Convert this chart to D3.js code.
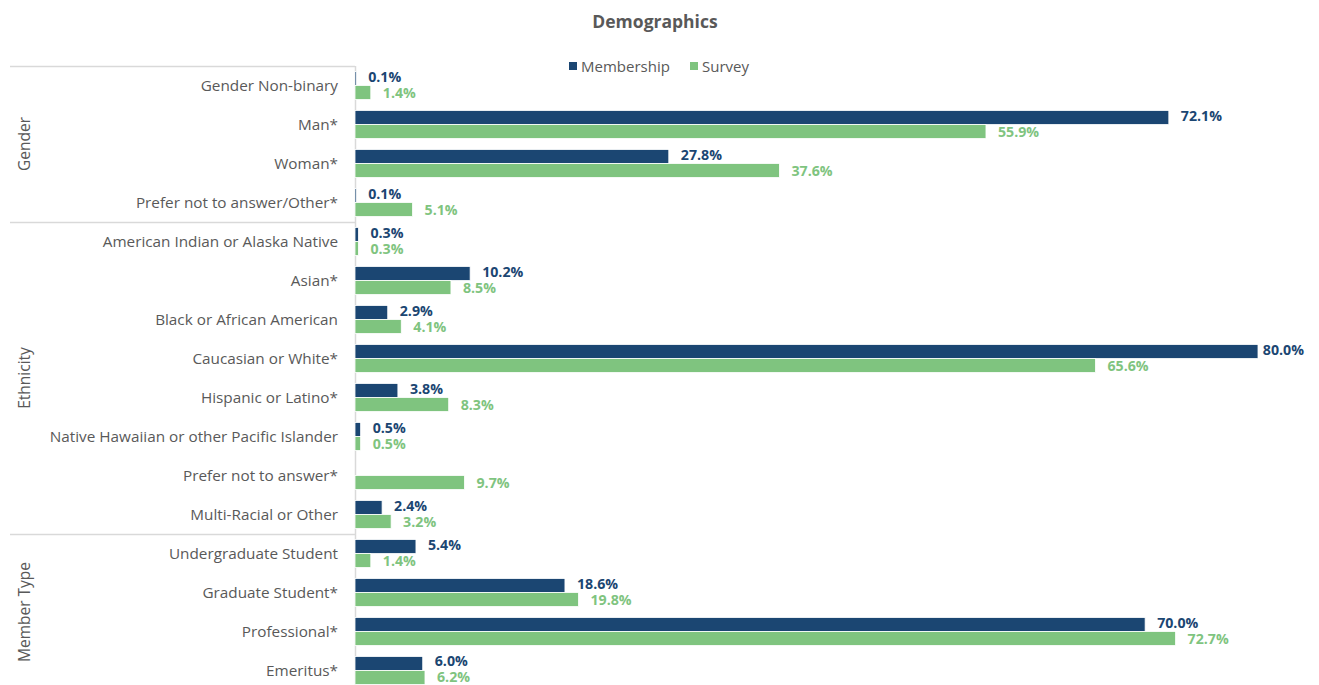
<!DOCTYPE html>
<html><head><meta charset="utf-8">
<script src="https://cdn.jsdelivr.net/npm/d3@7/dist/d3.min.js"></script>
<style>body{margin:0;background:#fff;} svg{display:block;font-family:"Open Sans",sans-serif;}</style>
</head><body>
<svg id="chart" width="1319" height="685"></svg>
<script>
const groups = ["Gender", "Ethnicity", "Member Type"];
const groupCounts = [4, 8, 4];
const categories = [
  "Gender Non-binary", "Man*", "Woman*", "Prefer not to answer/Other*",
  "American Indian or Alaska Native", "Asian*", "Black or African American", "Caucasian or White*",
  "Hispanic or Latino*", "Native Hawaiian or other Pacific Islander", "Prefer not to answer*", "Multi-Racial or Other",
  "Undergraduate Student", "Graduate Student*", "Professional*", "Emeritus*"
];
const membership = [0.1, 72.1, 27.8, 0.1, 0.3, 10.2, 2.9, 80.0, 3.8, 0.5, null, 2.4, 5.4, 18.6, 70.0, 6.0];
const survey     = [1.4, 55.9, 37.6, 5.1, 0.3, 8.5, 4.1, 65.6, 8.3, 0.5, 9.7, 3.2, 1.4, 19.8, 72.7, 6.2];
const seriesNames = ["Membership", "Survey"];
const colors = ["#1b4672", "#7fc47f"];

(function () {
const svg = d3.select("#chart");
const pLeft = 355, pRight = 1258, pTop = 66, pBottom = 690;
const x = d3.scaleLinear().domain([0, 80]).range([pLeft, pRight]);
const p = 11/39;
const y = d3.scaleBand().domain(categories).range([pTop, pBottom]).paddingInner(p).paddingOuter(p/2);
const step = y.step();
const bw = y.bandwidth();

svg.append("text").attr("x", 655).attr("y", 28).attr("text-anchor", "middle")
  .attr("font-size", 17.5).attr("font-weight", "bold").attr("fill", "#595959").text("Demographics");

const leg = svg.append("g");
const legItems = [{x: 569, name: seriesNames[0], c: colors[0]}, {x: 690, name: seriesNames[1], c: colors[1]}];
legItems.forEach(d => {
  leg.append("rect").attr("x", d.x).attr("y", 62).attr("width", 8).attr("height", 8).attr("fill", d.c);
  leg.append("text").attr("x", d.x + 12).attr("y", 71.5).attr("font-size", 15).attr("fill", "#595959").text(d.name);
});

const gridC = "#d9d9d9";
let idx = 0;
const bounds = [pTop];
groupCounts.forEach(n => { idx += n; bounds.push(pTop + idx * step); });
bounds.forEach(b => {
  svg.append("line").attr("x1", 10).attr("x2", pLeft).attr("y1", b + 0.5).attr("y2", b + 0.5)
    .attr("stroke", gridC).attr("stroke-width", 1.5);
});
svg.append("line").attr("x1", pLeft + 0.5).attr("x2", pLeft + 0.5).attr("y1", pTop).attr("y2", 685)
  .attr("stroke", gridC).attr("stroke-width", 1.5);

groups.forEach((g, i) => {
  const cy = (bounds[i] + bounds[i + 1]) / 2;
  svg.append("text").attr("transform", `translate(30,${cy}) rotate(-90)`)
    .attr("text-anchor", "middle").attr("font-size", 15.5).attr("fill", "#595959").text(g);
});

svg.append("g").selectAll("text").data(categories).join("text")
  .attr("x", 338).attr("y", d => y(d) + bw / 2).attr("dy", "0.35em")
  .attr("text-anchor", "end").attr("font-size", 15.3).attr("fill", "#595959").text(d => d);

// label y positions: survey label below, membership label above, clamped to stay in view
const surveyLabelY = c => Math.min(y(c) + 3 * bw / 4 + 1, 677.5);
const labelY = (c, si) => si === 1 ? surveyLabelY(c) : surveyLabelY(c) - 16.5;

const series = [membership, survey];
series.forEach((vals, si) => {
  const data = categories.map((c, i) => ({c, v: vals[i]})).filter(d => d.v !== null);
  svg.append("g").selectAll("rect").data(data).join("rect")
    .attr("x", x(0)).attr("y", d => y(d.c) + si * bw / 2)
    .attr("width", d => Math.max(x(d.v) - x(0), 1.5)).attr("height", bw / 2)
    .attr("fill", colors[si]).attr("stroke", "#fff").attr("stroke-width", 0.8);
  const labels = svg.append("g").selectAll("text").data(data).join("text")
    .attr("y", d => labelY(d.c, si))
    .attr("dy", "0.35em")
    .attr("font-size", 14.2).attr("font-weight", "bold").attr("fill", colors[si])
    .text(d => d.v.toFixed(1) + "%");
  labels.each(function(d) {
    const w = this.getComputedTextLength();
    let lx = x(d.v) + 12;
    if (lx + w > 1304) lx = Math.max(x(d.v) + 2, 1304 - w);
    d3.select(this).attr("x", lx);
  });
});
})();
</script>
</body></html>
